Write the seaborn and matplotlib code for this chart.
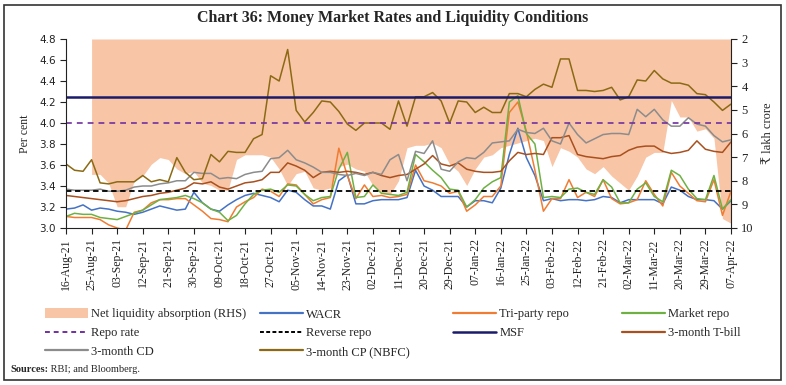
import numpy as np
import pandas as pd
import matplotlib.pyplot as plt
from matplotlib.patches import Patch, Rectangle
from matplotlib.lines import Line2D
import seaborn as sns


dates = pd.date_range("2021-08-16", "2022-04-07", freq="3D")

tick_labels = [
    "16-Aug-21", "25-Aug-21", "03-Sep-21", "12-Sep-21", "21-Sep-21",
    "30-Sep-21", "09-Oct-21", "18-Oct-21", "27-Oct-21", "05-Nov-21",
    "14-Nov-21", "23-Nov-21", "02-Dec-21", "11-Dec-21", "20-Dec-21",
    "29-Dec-21", "07-Jan-22", "16-Jan-22", "25-Jan-22", "03-Feb-22",
    "12-Feb-22", "21-Feb-22", "02-Mar-22", "11-Mar-22", "20-Mar-22",
    "29-Mar-22", "07-Apr-22"
]

# per cent
cp_nbfc = [
    3.61, 3.55, 3.54, 3.65, 3.43, 3.42, 3.44, 3.44, 3.44, 3.50,
    3.44, 3.46, 3.44, 3.67, 3.53, 3.46, 3.47, 3.70, 3.63, 3.73,
    3.72, 3.72, 3.85, 3.89, 4.45, 4.40, 4.70, 4.12, 4.01, 4.10,
    4.21, 4.20, 4.11, 3.99, 3.93, 4.00, 4.00, 4.00, 3.94, 4.21,
    3.97, 4.25, 4.25, 4.29, 4.21, 4.00, 4.21, 4.20, 4.10, 4.15,
    4.10, 4.10, 4.28, 4.28, 4.25, 4.32, 4.37, 4.34, 4.61, 4.61,
    4.31, 4.31, 4.30, 4.31, 4.34, 4.22, 4.25, 4.41, 4.40, 4.50,
    4.42, 4.38, 4.38, 4.36, 4.28, 4.27, 4.20, 4.12, 4.18
]

cd_3m = [
    3.37, 3.36, 3.36, 3.36, 3.37, 3.35, 3.35, 3.36, 3.39, 3.40,
    3.40, 3.42, 3.43, 3.45, 3.45, 3.53, 3.52, 3.52, 3.47, 3.48,
    3.47, 3.51, 3.53, 3.54, 3.66, 3.67, 3.74, 3.65, 3.62, 3.58,
    3.53, 3.53, 3.51, 3.50, 3.52, 3.50, 3.53, 3.51, 3.65, 3.70,
    3.45, 3.73, 3.71, 3.83, 3.56, 3.54, 3.63, 3.67, 3.66, 3.72,
    3.81, 3.82, 3.83, 3.94, 3.91, 3.90, 3.95, 3.83, 3.80, 4.00,
    3.89, 3.81, 3.85, 3.89, 3.90, 3.90, 3.89, 4.13, 4.06, 4.13,
    4.03, 3.97, 3.97, 4.05, 3.99, 3.97, 3.88, 3.82, 3.84
]

tbill_3m = [
    3.31, 3.30, 3.29, 3.28, 3.27, 3.26, 3.25, 3.26, 3.28, 3.30,
    3.31, 3.33, 3.34, 3.36, 3.38, 3.43, 3.42, 3.44, 3.39, 3.37,
    3.40, 3.43, 3.44, 3.46, 3.53, 3.53, 3.62, 3.59, 3.55, 3.48,
    3.53, 3.54, 3.53, 3.54, 3.53, 3.51, 3.53, 3.50, 3.48, 3.50,
    3.51, 3.56, 3.61, 3.69, 3.61, 3.59, 3.62, 3.56, 3.54, 3.53,
    3.53, 3.54, 3.64, 3.72, 3.70, 3.71, 3.70, 3.86, 3.86, 3.88,
    3.70, 3.68, 3.67, 3.66, 3.68, 3.69, 3.74, 3.77, 3.78, 3.78,
    3.73, 3.71, 3.72, 3.74, 3.83, 3.75, 3.73, 3.72, 3.82
]

wacr = [
    3.18, 3.19, 3.22, 3.17, 3.19, 3.18, 3.16, 3.15, 3.13, 3.15,
    3.18, 3.21, 3.19, 3.17, 3.18, 3.34, 3.24, 3.18, 3.16, 3.22,
    3.27, 3.31, 3.33, 3.31, 3.29, 3.25, 3.36, 3.34, 3.27, 3.21,
    3.21, 3.18, 3.45, 3.51, 3.23, 3.23, 3.26, 3.27, 3.27, 3.27,
    3.29, 3.55, 3.40, 3.36, 3.30, 3.30, 3.30, 3.20, 3.26, 3.26,
    3.24, 3.38, 3.70, 3.95, 3.67, 3.50, 3.26, 3.28, 3.26, 3.27,
    3.27, 3.26, 3.27, 3.30, 3.29, 3.24, 3.27, 3.27, 3.27, 3.27,
    3.23, 3.39, 3.36, 3.30, 3.27, 3.27, 3.26, 3.18, 3.26
]

triparty_repo = [
    3.11, 3.10, 3.10, 3.10, 3.08, 3.03, 3.00, 2.98, 3.15, 3.17,
    3.24, 3.27, 3.27, 3.28, 3.28, 3.22, 3.16, 3.09, 3.08, 3.06,
    3.20, 3.25, 3.29, 3.37, 3.35, 3.30, 3.42, 3.41, 3.32, 3.23,
    3.27, 3.29, 3.76, 3.50, 3.28, 3.41, 3.30, 3.31, 3.29, 3.30,
    3.32, 3.60, 3.45, 3.43, 3.40, 3.33, 3.35, 3.16, 3.22, 3.30,
    3.30, 3.40, 4.10, 4.20, 3.92, 3.55, 3.16, 3.28, 3.28, 3.46,
    3.29, 3.34, 3.30, 3.46, 3.28, 3.23, 3.24, 3.27, 3.45, 3.32,
    3.21, 3.53, 3.40, 3.33, 3.26, 3.25, 3.46, 3.12, 3.35
]

market_repo = [
    3.11, 3.14, 3.13, 3.13, 3.10, 3.09, 3.08, 3.11, 3.14, 3.17,
    3.22, 3.27, 3.28, 3.29, 3.31, 3.28, 3.24, 3.18, 3.15, 3.07,
    3.12, 3.23, 3.32, 3.36, 3.37, 3.34, 3.41, 3.40, 3.32, 3.26,
    3.29, 3.30, 3.56, 3.72, 3.29, 3.30, 3.41, 3.33, 3.32, 3.31,
    3.34, 3.70, 3.63, 3.55, 3.48, 3.37, 3.36, 3.20, 3.27, 3.38,
    3.44, 3.48, 4.20, 4.26, 3.90, 3.80, 3.29, 3.30, 3.29, 3.37,
    3.38, 3.34, 3.32, 3.46, 3.39, 3.24, 3.24, 3.37, 3.43, 3.30,
    3.25, 3.55, 3.50, 3.37, 3.28, 3.27, 3.50, 3.18, 3.27
]

# ₹ lakh crore (RHS, reversed)
net_liquidity = [
    np.nan, np.nan, np.nan, 7.73, 7.73, 8.10, 9.10, 9.10, 8.00, 7.80,
    7.30, 7.02, 7.10, 7.50, 7.70, 7.60, 8.10, 8.20, 8.40, 8.40,
    7.10, 6.90, 6.90, 6.90, 7.00, 7.50, 8.20, 7.70, 7.60, 8.30,
    8.40, 8.30, 7.40, 7.30, 7.50, 7.60, 8.20, 8.50, 8.60, 8.00,
    6.60, 6.50, 6.50, 6.40, 6.60, 7.30, 7.60, 8.20, 7.50, 7.00,
    6.90, 6.60, 6.50, 6.40, 6.30, 6.20, 6.30, 7.40, 6.60, 6.75,
    7.00, 7.50, 7.70, 7.40, 7.80, 8.10, 8.40, 7.80, 7.00, 6.80,
    6.80, 4.60, 5.30, 5.30, 5.90, 5.80, 6.20, 9.60, 9.80
]

repo_rate = 4.00
reverse_repo = 3.35
msf_rate = 4.25

W, H = 786, 385
SERIF = ["Liberation Serif", "DejaVu Serif", "DejaVu Sans"]


def run_chart():

    sns.set_style("ticks")
    plt.rcParams["font.family"] = SERIF

    fig = plt.figure(figsize=(W / 100, H / 100), dpi=100)

    ax = fig.add_axes([66 / W, 1 - 228 / H, 665 / W, 189 / H])
    ax2 = ax.twinx()

    ax.set_zorder(2)
    ax2.set_zorder(1)
    ax.patch.set_visible(False)

    peach = "#F8C5A6"

    ax2.fill_between(
        dates, 2, np.array(net_liquidity),
        color=peach, linewidth=0
    )
    ax2.set_ylim(10, 2)
    ax2.set_yticks(range(2, 11))

    series = [
        (wacr, "#4472C4", 1.1),
        (triparty_repo, "#F07C32", 1.1),
        (market_repo, "#6FB043", 1.1),
        (tbill_3m, "#A9501E", 1.1),
        (cd_3m, "#8C8C8C", 1.1),
        (cp_nbfc, "#8C6A14", 1.1),
    ]

    for values, color, lw in series:
        sns.lineplot(
            x=dates, y=values, ax=ax,
            color=color, linewidth=lw
        )

    ax.axhline(repo_rate, color="#7030A0", linewidth=1.2, dashes=(3.5, 3))
    ax.axhline(reverse_repo, color="black", linewidth=1.3, dashes=(3, 2))
    ax.axhline(msf_rate, color="#1B1B6B", linewidth=1.8)

    tick_dates = pd.to_datetime(tick_labels, format="%d-%b-%y")
    ax.set_xlim(tick_dates[0], tick_dates[-1])
    ax.set_xticks(tick_dates)
    ax.set_xticklabels(tick_labels, rotation=90, fontsize=8.5)

    ax.set_ylim(3.0, 4.8)
    ax.set_yticks(np.arange(3.0, 4.81, 0.2))
    ax.set_yticklabels(
        [f"{v:.1f}" for v in np.arange(3.0, 4.81, 0.2)],
        family="DejaVu Sans", fontsize=7.5
    )
    ax.set_xlabel("")
    ax.set_ylabel("Per cent", fontsize=8.5, labelpad=6)
    ax2.set_ylabel("₹ lakh crore", fontsize=9, labelpad=6)

    for t in ax2.get_yticklabels():
        t.set_fontsize(9)

    ax.tick_params(length=4, width=0.8, colors="#222222")
    ax2.tick_params(length=4, width=0.8, colors="#222222")

    ax.spines["top"].set_visible(False)
    ax.spines["right"].set_visible(False)
    ax2.spines["top"].set_visible(False)
    ax2.spines["left"].set_visible(False)
    ax2.spines["bottom"].set_visible(False)
    for s in ["left", "bottom"]:
        ax.spines[s].set_linewidth(0.8)
        ax.spines[s].set_color("#222222")
    ax2.spines["right"].set_linewidth(0.8)
    ax2.spines["right"].set_color("#222222")

    def ln(color, lw=1.6, dashes=None):
        h = Line2D([0], [0], color=color, linewidth=lw)
        if dashes:
            h.set_dashes(dashes)
        return h

    columns = [
        (45, [
            (Patch(facecolor=peach, edgecolor="none"), "Net liquidity absorption (RHS)"),
            (ln("#7030A0", 1.4, (2.5, 2)), "Repo rate"),
            (ln("#8C8C8C"), "3-month CD"),
        ]),
        (260, [
            (ln("#4472C4"), "WACR"),
            (ln("black", 1.4, (2, 1.2)), "Reverse repo"),
            (ln("#8C6A14"), "3-month CP (NBFC)"),
        ]),
        (453, [
            (ln("#F07C32"), "Tri-party repo"),
            (ln("#1B1B6B", 1.8), "MSF"),
        ]),
        (622, [
            (ln("#6FB043"), "Market repo"),
            (ln("#A9501E"), "3-month T-bill"),
        ]),
    ]

    for x0, items in columns:
        fig.legend(
            [h for h, _ in items],
            [l for _, l in items],
            loc="upper left",
            bbox_to_anchor=(x0 / W, 1 - 308 / H),
            frameon=False,
            fontsize=9,
            handlelength=3.4,
            handleheight=0.9,
            handletextpad=0.3,
            labelspacing=0.5,
            borderpad=0,
            borderaxespad=0,
        )

    fig.text(
        0.5, 1 - 18 / H,
        "Chart 36: Money Market Rates and Liquidity Conditions",
        ha="center", va="center", fontsize=11.5, fontweight="bold"
    )

    src = fig.text(
        10 / W, 1 - 369 / H, "Sources:",
        ha="left", va="center", fontsize=7.5, fontweight="bold"
    )
    ax.annotate(
        " RBI; and Bloomberg.",
        xy=(1, 0.5), xycoords=src,
        ha="left", va="center", fontsize=7.5
    )

    fig.patches.append(
        Rectangle(
            (4 / W, 5 / H), 777 / W, 375 / H,
            transform=fig.transFigure, fill=False,
            edgecolor="#333333", linewidth=1.2
        )
    )

    plt.savefig("out.png", dpi=100)
    plt.close()


if __name__ == "__main__":

    run_chart()
